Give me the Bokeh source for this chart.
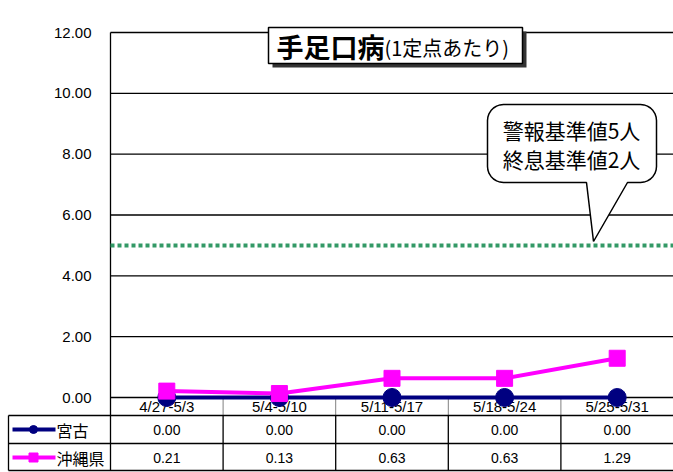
import numpy as np
from bokeh.plotting import figure
from bokeh.models import ColumnDataSource, Range1d
from bokeh.core.properties import value
from bokeh.embed import file_html
from bokeh.resources import INLINE

# ---------------- data ----------------
categories = ["4/27-5/3", "5/4-5/10", "5/11-5/17", "5/18-5/24", "5/25-5/31"]
miyako = [0.00, 0.00, 0.00, 0.00, 0.00]
okinawa = [0.21, 0.13, 0.63, 0.63, 1.29]
series_names = ["宮古", "沖縄県"]
y_ticks = [0, 2, 4, 6, 8, 10, 12]
alert_level = 5.0
title_main = "手足口病"
title_sub = "(1定点あたり)"
callout_lines = ["警報基準値5人", "終息基準値2人"]

JP = "Noto Sans CJK JP"
NUM = "Liberation Sans"
NAVY = "#000080"
MAGENTA = "#FF00FF"
GREEN = "#339966"

W, H = 673, 472
n = len(categories)
PLOT_L = 110
PXX = (W - PLOT_L) / n
X0, X1 = -PLOT_L / PXX, float(n)
PXY = 365.0 / 12.0
Y1 = 12 + 32 / PXY
Y0 = Y1 - H / PXY


def X(px):
    return X0 + px / PXX


def Y(py):
    return Y1 - py / PXY


p = figure(width=W, height=H, output_backend="svg", toolbar_location=None,
           x_range=Range1d(X0, X1), y_range=Range1d(Y0, Y1),
           x_axis_type=None, y_axis_type=None, min_border=0)
p.outline_line_color = None
p.xgrid.visible = False
p.ygrid.visible = False
p.background_fill_color = "white"

LW = 1.3

# table row boundaries
r_lab = Y(415)
r_mid = Y(443)
r_bot = Y(470)

# gridlines
p.segment(x0=[0] * len(y_ticks), x1=[n] * len(y_ticks), y0=y_ticks, y1=y_ticks,
          line_color="black", line_width=LW)
# y tick labels
p.text(x=[X(91)] * len(y_ticks), y=y_ticks, text=["%.2f" % t for t in y_ticks],
       text_font=value(NUM), text_font_size="15px", text_align="right",
       text_baseline="middle", text_color="black")

# left border of plot area
p.segment(x0=[0], x1=[0], y0=[max(y_ticks)], y1=[r_bot], line_color="black", line_width=LW)
# category separators in label row
sep = list(range(1, n))
p.segment(x0=sep, x1=sep, y0=[0] * len(sep), y1=[r_lab] * len(sep),
          line_color="#808080", line_width=1)
# table data rows separators
p.segment(x0=sep, x1=sep, y0=[r_lab] * len(sep), y1=[r_bot] * len(sep),
          line_color="black", line_width=LW)
# horizontal table lines
p.segment(x0=[X(8)] * 3, x1=[n] * 3, y0=[r_lab, r_mid, r_bot], y1=[r_lab, r_mid, r_bot],
          line_color="black", line_width=LW)
p.segment(x0=[X(8)], x1=[X(8)], y0=[r_lab], y1=[r_bot], line_color="black", line_width=LW)

# alert level dotted line
p.segment(x0=[0], x1=[n], y0=[alert_level], y1=[alert_level],
          line_color=GREEN, line_width=4, line_dash="4 3")

# title box with shadow
p.quad(left=[X(272)], right=[X(526)], top=[Y(31)], bottom=[Y(67)],
       fill_color="#333333", line_color=None)
p.quad(left=[X(268)], right=[X(522)], top=[Y(27)], bottom=[Y(63)],
       fill_color="white", line_color="black", line_width=1.5)
p.text(x=[X(276)], y=[Y(46)], text=[title_main], text_font=value(JP),
       text_font_size="27px", text_font_style="bold", text_align="left",
       text_baseline="middle", text_color="black")
p.text(x=[X(384)], y=[Y(47)], text=[title_sub], text_font=value(JP),
       text_font_size="20px", text_align="left", text_baseline="middle",
       text_color="black")

# callout
L, R, T, B, rad = 487, 656, 104, 182, 16
pts = []


def arc(cx, cy, a0, a1):
    for a in np.linspace(a0, a1, 8):
        pts.append((cx + rad * np.cos(a), cy + rad * np.sin(a)))


arc(L + rad, T + rad, np.pi, 1.5 * np.pi)
arc(R - rad, T + rad, 1.5 * np.pi, 2 * np.pi)
arc(R - rad, B - rad, 0, 0.5 * np.pi)
pts.append((627, B))
pts.append((593, 241))
pts.append((586, B))
arc(L + rad, B - rad, 0.5 * np.pi, np.pi)
p.patch(x=[X(a) for a, b in pts], y=[Y(b) for a, b in pts],
        fill_color="white", line_color="black", line_width=1.5)
p.text(x=[X(571), X(571)], y=[Y(129), Y(158)], text=callout_lines,
       text_font=value(JP), text_font_size="21px", text_align="center",
       text_baseline="middle", text_color="black")

# table texts
xc = [i + 0.5 for i in range(n)]
p.text(x=xc, y=[Y(406)] * n, text=categories, text_font=value(NUM),
       text_font_size="15px", text_align="center", text_baseline="middle",
       text_color="black")
p.text(x=xc, y=[Y(429)] * n, text=["%.2f" % v for v in miyako], text_font=value(NUM),
       text_font_size="14px", text_align="center", text_baseline="middle",
       text_color="black")
p.text(x=xc, y=[Y(457)] * n, text=["%.2f" % v for v in okinawa], text_font=value(NUM),
       text_font_size="14px", text_align="center", text_baseline="middle",
       text_color="black")

# legend keys in table
row_y = [Y(429), Y(457)]
p.segment(x0=[X(12)] * 2, x1=[X(55)] * 2, y0=row_y, y1=row_y,
          line_color=[NAVY, MAGENTA], line_width=4)
p.scatter(x=[X(33)], y=[row_y[0]], marker="circle", size=8, fill_color=NAVY, line_color=NAVY)
p.scatter(x=[X(33)], y=[row_y[1]], marker="square", size=9, fill_color=MAGENTA, line_color=MAGENTA)
p.text(x=[X(56)] * 2, y=row_y, text=series_names, text_font=value(JP),
       text_font_size="16px", text_align="left", text_baseline="middle",
       text_color="black")

# series
src = ColumnDataSource(dict(x=xc, miyako=miyako, okinawa=okinawa))
p.line(x="x", y="miyako", source=src, line_color=NAVY, line_width=4)
p.scatter(x="x", y="miyako", source=src, marker="circle", size=18,
          fill_color=NAVY, line_color=NAVY)
p.line(x="x", y="okinawa", source=src, line_color=MAGENTA, line_width=4)
p.scatter(x="x", y="okinawa", source=src, marker="square", size=16,
          fill_color=MAGENTA, line_color=MAGENTA)

open("out.html", "w").write(file_html(p, INLINE))
